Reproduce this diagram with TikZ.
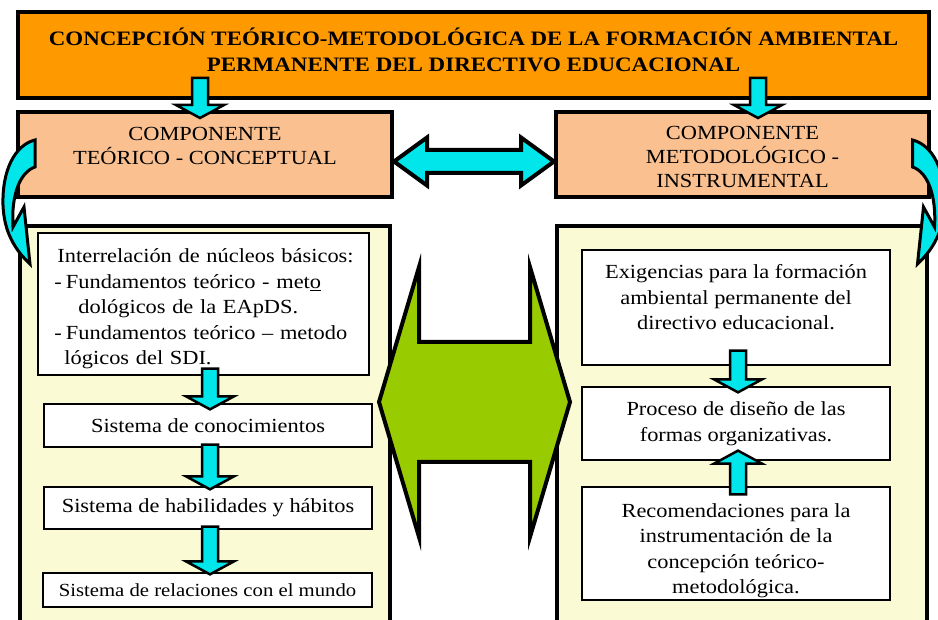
\documentclass[tikz,border=0pt]{standalone}
\usepackage{fontspec}
\setmainfont[FakeStretch=1.12]{Liberation Serif}
\usetikzlibrary{calc}
\usetikzlibrary{positioning}
\definecolor{morange}{RGB}{255,153,0}
\definecolor{mpeach}{RGB}{250,192,144}
\definecolor{myellow}{RGB}{250,250,212}
\definecolor{mcyan}{RGB}{0,230,235}
\definecolor{mgreen}{RGB}{153,204,0}
\tikzset{titlebox/.style = {draw, line width=4, fill=morange, inner sep=0}}
\tikzset{titletext/.style = {align=center, font=\bfseries\fontsize{20.5}{26.5}\selectfont}}
\tikzset{compbox/.style = {draw, line width=4, fill=mpeach, inner sep=0, align=center,
    font=\fontsize{20}{24}\selectfont}}
\tikzset{comptext/.style = {align=center, font=\fontsize{20}{24}\selectfont}}
\tikzset{bigbox/.style = {draw, line width=4, fill=myellow, inner sep=0}}
\tikzset{box/.style = {draw, line width=1.3, fill=white, inner sep=0, align=center,
    font=\fontsize{20}{25.5}\selectfont}}
\tikzset{boxtext/.style = {align=center, font=\fontsize{20}{25.5}\selectfont}}
\tikzset{blockarrow/.style = {draw, line width=2.5, fill=mcyan, line join=miter}}
\tikzset{bigarrow/.style = {draw, line width=4, line join=miter}}
% vertical block arrow from #1 to #2
\newcommand{\vblockarrow}[2]{%
  \draw[blockarrow] ($(#1)+(-8,0)$) -- ($(#2)!13pt!(#1)+(-8,0)$) -- ($(#2)!13pt!(#1)+(-24,0)$)
    -- (#2) -- ($(#2)!13pt!(#1)+(24,0)$) -- ($(#2)!13pt!(#1)+(8,0)$) -- ($(#1)+(8,0)$) -- cycle;}
% horizontal double block arrow: style, from, to, shaft, head, head length
\newcommand{\hdblarrow}[6]{%
  \draw[#1] (#2) -- ($(#2)!#6!(#3)+(0,-#5)$) -- ($(#2)!#6!(#3)+(0,-#4)$)
    -- ($(#3)!#6!(#2)+(0,-#4)$) -- ($(#3)!#6!(#2)+(0,-#5)$) -- (#3)
    -- ($(#3)!#6!(#2)+(0,#5)$) -- ($(#3)!#6!(#2)+(0,#4)$)
    -- ($(#2)!#6!(#3)+(0,#4)$) -- ($(#2)!#6!(#3)+(0,#5)$) -- cycle;}

\begin{document}
\begin{tikzpicture}[x=1pt, y=-1pt]
    \path[use as bounding box] (0,0) rectangle (938,620);
    \clip (0,0) rectangle (938,620);

    \node [bigbox, minimum width=370, minimum height=414] (lbig) at (205,433) {};
    \node [bigbox, minimum width=370, minimum height=414] (rbig) at (742,433) {};

    \node [titlebox, minimum width=911, minimum height=86] (title) at (473.5,55) {};
    \node [titletext] at ($(title.center)+(0,-5)$)
      {CONCEPCIÓN TEÓRICO-METODOLÓGICA DE LA FORMACIÓN AMBIENTAL\\PERMANENTE DEL DIRECTIVO EDUCACIONAL};

    \node [compbox, minimum width=374, minimum height=85] (lcomp) at (205,154.5) {};
    \node [comptext] at ($(lcomp.center)+(0,-9)$) {COMPONENTE\\TEÓRICO - CONCEPTUAL};
    \node [compbox, minimum width=373, minimum height=85] (rcomp) at (742.5,154.5) {};
    \node [comptext] at ($(rcomp.center)+(0,2)$) {COMPONENTE\\METODOLÓGICO -\\INSTRUMENTAL};

    % left column
    \node [box, minimum width=331, minimum height=142] (b1) at (203.5,304) {};
    \node [boxtext, text width=310, align=left] at ($(b1.center)+(0,5)$)
      {\hspace*{9pt}Interrelación de núcleos básicos:\\
       \hspace*{6pt}-\hspace{4pt}Fundamentos teórico - met\underline{o}\\
       \hspace*{30pt}dológicos de la EApDS.\\
       \hspace*{6pt}-\hspace{4pt}Fundamentos teórico -- metodo\\
       \hspace*{16pt}lógicos del SDI.};
    \node [box, minimum width=328, minimum height=43] (b2) at (208,425.5) {Sistema de conocimientos};
    \node [box, minimum width=328, minimum height=42] (b3) at (208,508) {Sistema de habilidades y hábitos};
    \node [box, minimum width=329, minimum height=34, font=\fontsize{18.5}{22}\selectfont] (b4) at (207.5,590)
      {Sistema de relaciones con el mundo};

    % right column
    \node [box, minimum width=308, minimum height=115] (r1) at (736,307.5) {};
    \node [boxtext] at ($(r1.center)+(0,-10)$)
      {Exigencias para la formación\\ambiental permanente del\\directivo educacional.};
    \node [box, minimum width=308, minimum height=73] (r2) at (736,423.5)
      {Proceso de diseño de las\\formas organizativas.};
    \node [box, minimum width=308, minimum height=113] (r3) at (736,543.5) {};
    \node [boxtext] at ($(r3.center)+(0,7)$)
      {Recomendaciones para la\\instrumentación de la\\concepción teórico-\\metodológica.};

    % arrows
    \coordinate (t1s) at ($(lcomp.north)+(-5,-32)$);
    \coordinate (t1e) at ($(lcomp.north)+(-5,8)$);
    \coordinate (t2s) at ($(rcomp.north)+(15.5,-32)$);
    \coordinate (t2e) at ($(rcomp.north)+(15.5,8)$);
    \vblockarrow{t1s}{t1e}
    \vblockarrow{t2s}{t2e}

    \coordinate (a1s) at ($(b1.south)+(6.5,-7)$);
    \coordinate (a1e) at ($(b2.north)+(2,6)$);
    \coordinate (a2s) at ($(b2.south)+(2,-3)$);
    \coordinate (a2e) at ($(b3.north)+(2,3)$);
    \coordinate (a3s) at ($(b3.south)+(2,-3)$);
    \coordinate (a3e) at ($(b4.north)+(2.5,2)$);
    \vblockarrow{a1s}{a1e}
    \vblockarrow{a2s}{a2e}
    \vblockarrow{a3s}{a3e}

    \coordinate (c1s) at ($(r1.south)+(2,-15)$);
    \coordinate (c1e) at ($(r2.north)+(2,6)$);
    \coordinate (c2s) at ($(r3.north)+(2,8)$);
    \coordinate (c2e) at ($(r2.south)+(2,-10)$);
    \vblockarrow{c1s}{c1e}
    \vblockarrow{c2s}{c2e}

    \coordinate (cl) at ($(lcomp.east)+(0,7)$);
    \coordinate (cr) at ($(rcomp.west)+(0,7)$);
    \hdblarrow{bigarrow, fill=mcyan}{cl}{cr}{11.5}{24}{33pt}

    \coordinate (gl) at ($(lbig.east)+(-13,-31)$);
    \coordinate (gr) at ($(rbig.west)+(15,-31)$);
    \hdblarrow{bigarrow, fill=mgreen}{gl}{gr}{60}{135}{40pt}

    % curved arrows at the sides
    \draw [bigarrow, line width=3, fill=mcyan] (35,140) .. controls (15,145) and (2,170) .. (3,205)
      .. controls (4,232) and (15,250) .. (30,264) -- (24,207) -- (13,227)
      .. controls (11,195) and (20,172) .. (35,167) -- cycle;
    \begin{scope}[shift={(947.5,0)}, xscale=-1]
      \draw [bigarrow, line width=3, fill=mcyan] (35,140) .. controls (15,145) and (2,170) .. (3,205)
        .. controls (4,232) and (15,250) .. (30,264) -- (24,207) -- (13,227)
        .. controls (11,195) and (20,172) .. (35,167) -- cycle;
    \end{scope}
\end{tikzpicture}
\end{document}
